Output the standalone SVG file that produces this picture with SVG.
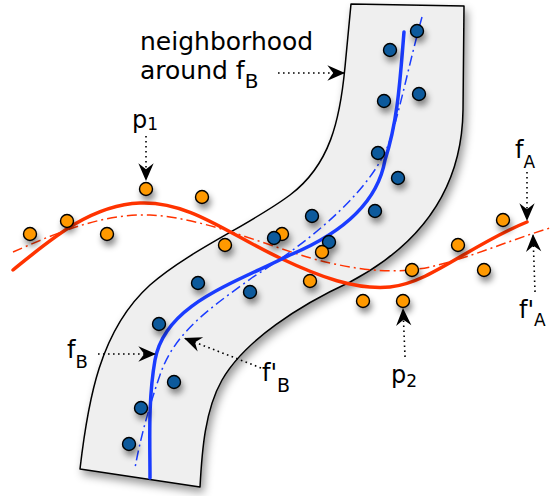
<svg xmlns="http://www.w3.org/2000/svg" width="553" height="496" viewBox="0 0 553 496">
<defs>
<filter id="sh" x="-50%" y="-50%" width="200%" height="200%">
<feDropShadow dx="2" dy="5" stdDeviation="3" flood-color="#000" flood-opacity="0.45"/>
</filter>
<filter id="bsh" x="-20%" y="-20%" width="140%" height="140%">
<feDropShadow dx="3" dy="5" stdDeviation="4" flood-color="#000" flood-opacity="0.4"/>
</filter>
<marker id="ah" markerUnits="userSpaceOnUse" orient="auto" refX="0" refY="0" markerWidth="20" markerHeight="20" viewBox="-16 -8 17 16" overflow="visible">
<path d="M0,0 L-15,-6.5 L-10,0 L-15,6.5 Z" fill="#000"/>
</marker>
</defs>
<style>
.band{fill:#efefef;stroke:#000;stroke-width:1.5;stroke-linejoin:round}
.rs{fill:none;stroke:#ff3300;stroke-width:3.5;stroke-linecap:round}
.rd{fill:none;stroke:#ff3300;stroke-width:1.5;stroke-dasharray:10 4 2 4}
.bs{fill:none;stroke:#1a3cff;stroke-width:3.5;stroke-linecap:round}
.bd{fill:none;stroke:#1a3cff;stroke-width:1.5;stroke-dasharray:10 4 2 4}
.o{fill:#ff9900;stroke:#000;stroke-width:1.4}
.b{fill:#0b5a9c;stroke:#000;stroke-width:1.4}
.arr{fill:none;stroke:#000;stroke-width:1.6;stroke-dasharray:1.6 3.4;marker-end:url(#ah)}
text{font-family:"DejaVu Sans","Liberation Sans",sans-serif;fill:#000}
.t{font-size:24px}
.sub{font-size:17px}
</style>
<g id="neighborhood-band">
<path class="band" filter="url(#bsh)" d="M351,4 L464,6 L463,110 C462,190 420,245 350,282 C300,305 245,340 222,380 C205,410 202,450 200,487 L80,469 C88,400 100,330 150,285 C190,250 250,225 290,195 C330,165 340,120 345,67 Z"/>
</g>
<g id="curves">
<path id="fpA" class="rd" d="M13,252 C50,236 100,213 150,215 C210,218 280,252 330,263 C370,272 400,273 430,267 C470,258 510,240 550,228"/>
<path id="fA" class="rs" d="M13,270 C50,240 90,205 140,203 C190,201 230,235 280,258 C320,277 355,290 390,287 C430,283 470,245 527,222"/>
<path id="fpB" class="bd" d="M422,17 C410,60 400,110 390,140 C375,185 320,235 253,277 C215,305 175,330 160,375 C148,410 140,440 135,468"/>
<path id="fB" class="bs" d="M404,32 C400,80 398,120 385,160 C378,200 345,232 290,255 C230,285 165,305 155,360 C148,400 150,440 150,478"/>
</g>
<g id="points" filter="url(#sh)">
<circle class="o" cx="146" cy="189" r="6.5"/>
<circle class="o" cx="202" cy="197" r="6.5"/>
<circle class="o" cx="67" cy="221" r="6.5"/>
<circle class="o" cx="30" cy="234" r="6.5"/>
<circle class="o" cx="107" cy="234" r="6.5"/>
<circle class="o" cx="225" cy="245" r="6.5"/>
<circle class="o" cx="282" cy="234" r="6.5"/>
<circle class="o" cx="310" cy="281" r="6.5"/>
<circle class="o" cx="363" cy="301" r="6.5"/>
<circle class="o" cx="403" cy="301" r="6.5"/>
<circle class="o" cx="412" cy="270" r="6.5"/>
<circle class="o" cx="458" cy="245" r="6.5"/>
<circle class="o" cx="484" cy="270" r="6.5"/>
<circle class="o" cx="503" cy="220" r="6.5"/>
<circle class="b" cx="417" cy="31" r="6.5"/>
<circle class="b" cx="390" cy="50" r="6.5"/>
<circle class="b" cx="384" cy="101" r="6.5"/>
<circle class="b" cx="419" cy="94" r="6.5"/>
<circle class="b" cx="378" cy="153" r="6.5"/>
<circle class="b" cx="398" cy="178" r="6.5"/>
<circle class="b" cx="375" cy="211" r="6.5"/>
<circle class="b" cx="312" cy="216" r="6.5"/>
<circle class="b" cx="274" cy="238" r="6.5"/>
<circle class="b" cx="329" cy="242" r="6.5"/>
<circle class="o" cx="322" cy="252" r="6.5"/>
<circle class="b" cx="198" cy="283" r="6.5"/>
<circle class="b" cx="250" cy="292" r="6.5"/>
<circle class="b" cx="159" cy="324" r="6.5"/>
<circle class="b" cx="174" cy="382" r="6.5"/>
<circle class="b" cx="141" cy="408" r="6.5"/>
<circle class="b" cx="129" cy="444" r="6.5"/>
</g>
<g id="connectors">
<path class="arr" d="M278,73 L345,73"/>
<path class="arr" d="M146,136 L146,181"/>
<path class="arr" d="M527,172 L527,221"/>
<path class="arr" d="M535,292 L533,234"/>
<path class="arr" d="M405,357 L403,308"/>
<path class="arr" d="M98,354 L156,354"/>
<path class="arr" d="M261,368 L184,338"/>
</g>
<g id="label-neighborhood">
<text class="t" x="140" y="50" style="font-size:25px">neighborhood</text>
<text class="t" x="140" y="79" style="font-size:25px">around f<tspan style="font-size:20px" dy="9">B</tspan></text>
</g>
<g id="label-p1"><text class="t" x="132" y="128">p<tspan class="sub" dy="2">1</tspan></text></g>
<g id="label-fA"><text class="t" x="515" y="158">f<tspan class="sub" dy="10">A</tspan></text></g>
<g id="label-fpA"><text class="t" x="519" y="318">f'<tspan class="sub" dy="8">A</tspan></text></g>
<g id="label-p2"><text class="t" x="391" y="383">p<tspan class="sub" dy="4">2</tspan></text></g>
<g id="label-fB"><text class="t" x="67" y="358">f<tspan style="font-size:18px" dy="10">B</tspan></text></g>
<g id="label-fpB"><text class="t" x="262" y="381">f'<tspan style="font-size:19px" dy="11">B</tspan></text></g>
</svg>
